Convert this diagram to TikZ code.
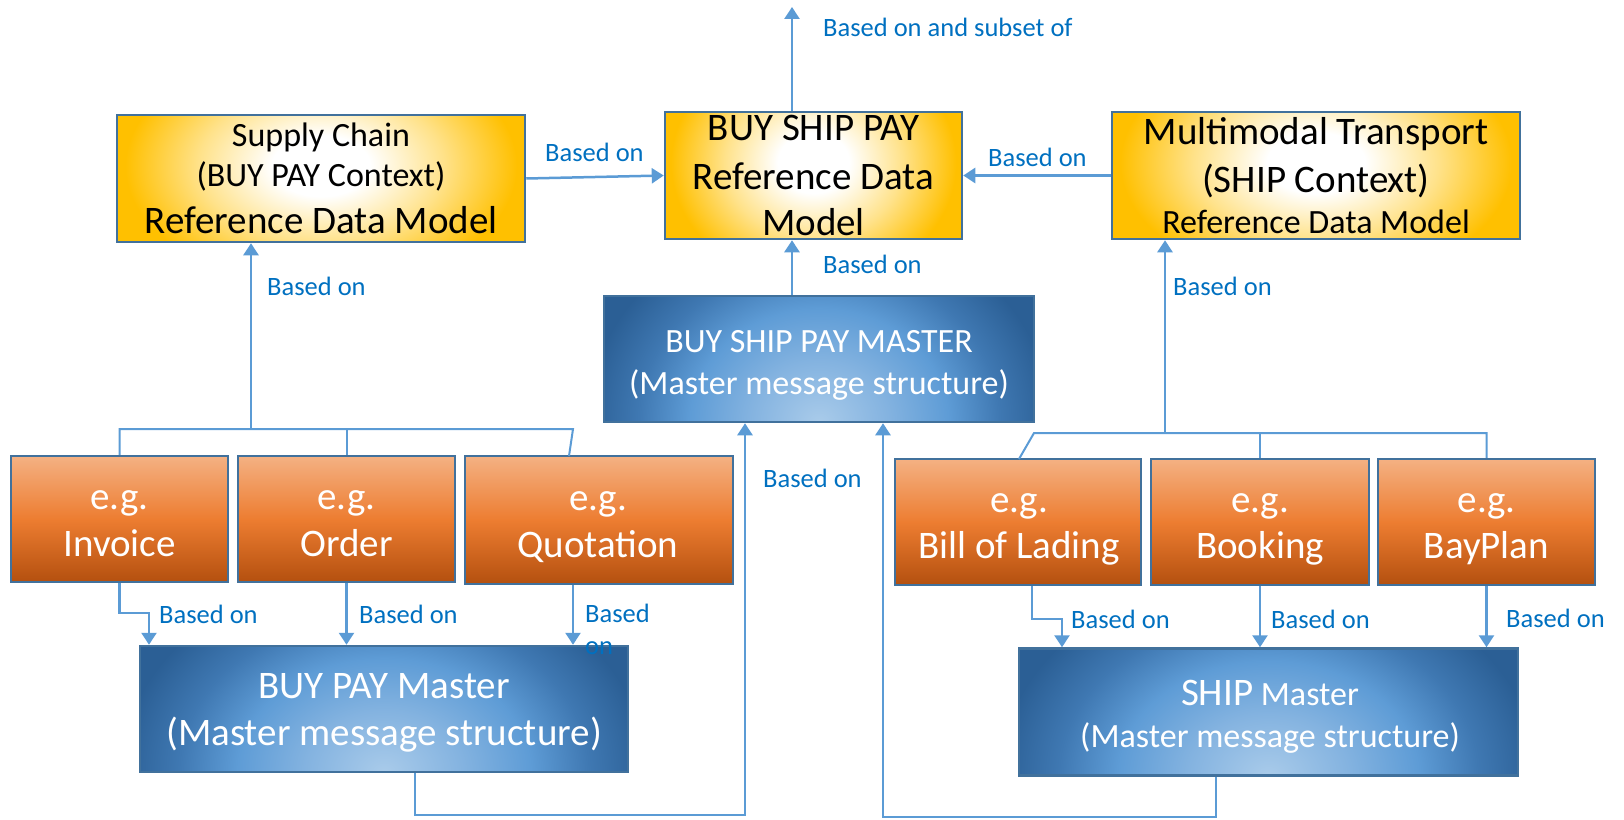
\documentclass[tikz,border=0pt]{standalone}
\usepackage{fontspec}
\setmainfont{Carlito}
\usetikzlibrary{arrows.meta,calc}
\definecolor{connc}{HTML}{5B9BD5}
\definecolor{lblc}{HTML}{0070C0}
\definecolor{bordc}{HTML}{41719C}
\definecolor{goldc}{HTML}{FFC000}
\definecolor{goldlt}{HTML}{FFE28A}
\definecolor{orTop}{HTML}{F4B183}
\definecolor{orMid}{HTML}{ED7D31}
\definecolor{orBot}{HTML}{B4500F}
\definecolor{blLt}{HTML}{A9CBEA}
\definecolor{blLM}{HTML}{84B3E0}
\definecolor{blMd}{HTML}{5E9CD6}
\definecolor{blMD}{HTML}{3F78B2}
\definecolor{blDk}{HTML}{2B5F95}
\pgfdeclareradialshading{goldshade}{\pgfpoint{0bp}{0bp}}{color(0bp)=(white); color(6bp)=(white); color(15bp)=(goldlt); color(24bp)=(goldc); color(100bp)=(goldc)}
\pgfdeclareradialshading{blueshade}{\pgfpoint{0bp}{0bp}}{color(0bp)=(blLt); color(8bp)=(blLM); color(15bp)=(blMd); color(21bp)=(blMD); color(27bp)=(blDk); color(100bp)=(blDk)}
\newcommand\szBig{\fontsize{39bp}{46bp}\selectfont}
\newcommand\szMid{\fontsize{34bp}{40bp}\selectfont}
\newcommand\szLbl{\fontsize{26.5bp}{32bp}\selectfont}
\tikzset{
  x=1bp, y=-1bp,
  goldbox/.style={draw=bordc, line width=2.5bp, inner sep=0pt,
    path picture={\shade[shading=goldshade] let \p1=(path picture bounding box.south west), \p2=(path picture bounding box.north east) in (\x1,{\y1-0.4*(\y2-\y1)}) rectangle (\x2,{\y2+0.6*(\y2-\y1)});}},
  bluebox/.style={draw=bordc, line width=2.5bp, inner sep=0pt,
    path picture={\shade[shading=blueshade] let \p1=(path picture bounding box.south west), \p2=(path picture bounding box.north east) in (\x1,{\y1-1.5*(\y2-\y1)}) rectangle (\x2,{\y1+1.5*(\y2-\y1)});}},
  orbox/.style={draw=bordc, line width=2.5bp, inner sep=0pt, top color=orTop, bottom color=orBot, middle color=orMid},
  tdark/.style={inner sep=0pt, anchor=base, text=black},
  twhite/.style={inner sep=0pt, anchor=base, text=white},
  lab/.style={inner sep=0pt, anchor=base west, text=lblc, font=\szLbl},
  conn/.style={draw=connc, line width=2.5bp, -{Triangle[width=15bp,length=12bp]}},
  plain/.style={draw=connc, line width=2bp},
}
\begin{document}
\begin{tikzpicture}
\useasboundingbox (0,0) rectangle (1624,819);
% boxes
\node[goldbox, minimum width=408bp, minimum height=127bp] (sc) at (321,178.5) {};
\node[goldbox, minimum width=297bp, minimum height=127bp] (bspref) at (813.5,175.5) {};
\node[goldbox, minimum width=408bp, minimum height=127bp] (mm) at (1316,175.5) {};
\node[bluebox, minimum width=430bp, minimum height=126bp] (bspm) at (819,359) {};
\node[orbox, minimum width=217bp, minimum height=126bp] (inv) at (119.5,519) {};
\node[orbox, minimum width=217bp, minimum height=126bp] (ord) at (346.5,519) {};
\node[orbox, minimum width=268bp, minimum height=128bp] (quo) at (599,520) {};
\node[orbox, minimum width=246bp, minimum height=126bp] (bol) at (1018,522) {};
\node[orbox, minimum width=218bp, minimum height=126bp] (boo) at (1260,522) {};
\node[orbox, minimum width=217bp, minimum height=126bp] (bay) at (1486.5,522) {};
\node[bluebox, minimum width=488bp, minimum height=126bp] (bpm) at (384,709) {};
\node[bluebox, minimum width=499bp, minimum height=127bp] (shm) at (1268.5,712) {};
% coordinates
\coordinate (top) at (792,7);
\coordinate (jl) at (251,429);
\coordinate (qt) at (573,429);
\coordinate (qb) at (569,456);
\coordinate (jr) at (1165,433);
\coordinate (bt) at (1034,433);
\coordinate (bq) at (1019,459);
\coordinate (ia) at (149,613);
\coordinate (ba) at (1032,619);
\coordinate (bb) at (1062,619);
\coordinate (b1) at (415,815);
\coordinate (b2) at (745,815);
\coordinate (s1) at (1216,817);
\coordinate (s2) at (883,817);
% connectors
\draw[conn] (sc.east) -- (bspref.west);
\draw[conn] (mm.west) -- (bspref.east);
\draw[conn] (bspref.north -| top) -- (top);
\draw[conn] (bspm.north -| top) -- (bspref.south -| top);
\draw[conn] (jl) -- (sc.south -| jl);
\draw[plain] (inv.north) -- (inv.north |- jl) -- (qt) -- (qb);
\draw[plain] (ord.north) -- (ord.north |- jl);
\draw[conn] (jr) -- (mm.south -| jr);
\draw[plain] (bq) -- (bt) -- (bay.north |- bt) -- (bay.north);
\draw[plain] (boo.north) -- (boo.north |- bt);
\draw[conn] (inv.south) |- (ia) -- (bpm.north -| ia);
\draw[conn] (ord.south) -- (bpm.north -| ord.south);
\draw[conn] (quo.south -| qt) -- (bpm.north -| qt);
\draw[conn] (bol.south -| ba) -- (ba) -- (bb) -- (shm.north -| bb);
\draw[conn] (boo.south) -- (shm.north -| boo.south);
\draw[conn] (bay.south) -- (shm.north -| bay.south);
\draw[conn] (bpm.south -| b1) -- (b1) -- (b2) -- (bspm.south -| b2);
\draw[conn] (shm.south -| s1) -- (s1) -- (s2) -- (bspm.south -| s2);
% box texts
\node[tdark, font=\szMid] (sc1) at (321,146) {Supply Chain};
\node[tdark, font=\szMid] (sc2) at (321,186) {(BUY PAY Context)};
\node[tdark, font=\szBig] (sc3) at (321,233) {Reference Data Model};
\node[tdark, font=\szBig] (br1) at (813.5,140) {BUY SHIP PAY};
\node[tdark, font=\szBig] (br2) at (813.5,189) {Reference Data};
\node[tdark, font=\szBig] (br3) at (813.5,235) {Model};
\node[tdark, font=\szBig] (mm1) at (1316,144) {Multimodal Transport};
\node[tdark, font=\szBig] (mm2) at (1316,192) {(SHIP Context)};
\node[tdark, font=\szMid] (mm3) at (1316,233) {Reference Data Model};
\node[twhite, font=\szMid] (bm1) at (819,352) {BUY SHIP PAY MASTER};
\node[twhite, font=\szMid] (bm2) at (819,394) {(Master message structure)};
\node[twhite, font=\szBig] (bp1) at (384,698) {BUY PAY Master};
\node[twhite, font=\szBig] (bp2) at (384,745) {(Master message structure)};
\node[twhite, font=\szMid] (sh1) at (1270,705) {{\szBig SHIP} Master};
\node[twhite, font=\szMid] (sh2) at (1270,747) {(Master message structure)};
\node[twhite, font=\szBig] (inv1) at (119.5,509) {e.g.};
\node[twhite, font=\szBig] (inv2) at (119.5,556) {Invoice};
\node[twhite, font=\szBig] (ord1) at (346.5,509) {e.g.};
\node[twhite, font=\szBig] (ord2) at (346.5,556) {Order};
\node[twhite, font=\szBig] (quo1) at (598,510) {e.g.};
\node[twhite, font=\szBig] (quo2) at (598,557) {Quotation};
\node[twhite, font=\szBig] (bol1) at (1019,512) {e.g.};
\node[twhite, font=\szBig] (bol2) at (1019,558) {Bill of Lading};
\node[twhite, font=\szBig] (boo1) at (1260,512) {e.g.};
\node[twhite, font=\szBig] (boo2) at (1260,558) {Booking};
\node[twhite, font=\szBig] (bay1) at (1486.5,512) {e.g.};
\node[twhite, font=\szBig] (bay2) at (1486.5,558) {BayPlan};
% labels
\node[lab] (l1) at (545,161) {Based on};
\node[lab] (l2) at (988,166) {Based on};
\node[lab] (l3) at (823,37) {Based on and subset of};
\node[lab] (l4) at (823,273) {Based on};
\node[lab] (l5) at (267,295) {Based on};
\node[lab] (l6) at (1173,295) {Based on};
\node[lab] (l7) at (763,487) {Based on};
\node[lab] (l8) at (159,623) {Based on};
\node[lab] (l9) at (359,623) {Based on};
\node[lab] (l10) at (585,622) {Based};
\node[lab] (l10b) at (585,654) {on};
\node[lab] (l11) at (1071,628) {Based on};
\node[lab] (l12) at (1271,628) {Based on};
\node[lab] (l13) at (1506,627) {Based on};
\end{tikzpicture}
\end{document}
